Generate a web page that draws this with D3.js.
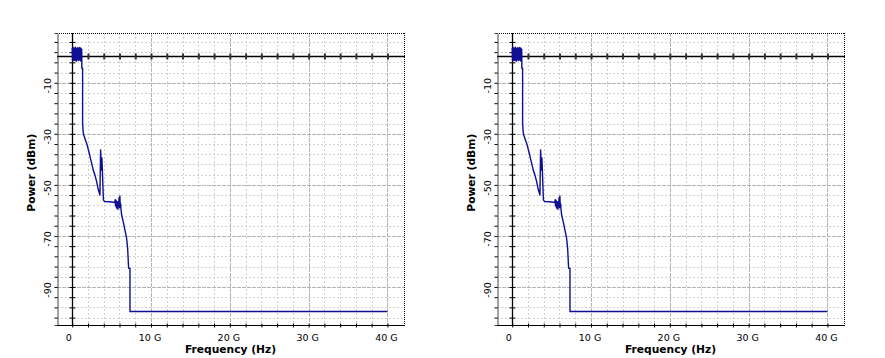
<!DOCTYPE html>
<html><head><meta charset="utf-8">
<script src="https://cdn.jsdelivr.net/npm/d3@7/dist/d3.min.js"></script>
<style>body{margin:0;background:#fff}svg{display:block}</style>
</head><body><svg id="c" width="885" height="358"></svg>
<script>
// ---- data (frequency in GHz, power in dBm) ----
const freqGHz = [
  0.00,0.04,0.08,0.12,0.16,0.20,0.24,0.28,0.32,0.36,0.40,0.44,0.48,0.52,0.56,0.60,
  0.64,0.68,0.72,0.76,0.80,0.84,0.88,0.92,0.96,1.00,1.04,1.08,1.12,1.16,1.20,
  1.22,1.22,1.32,1.32,1.40,1.61,1.90,2.16,2.46,2.66,2.88,3.10,3.22,3.39,3.52,
  3.60,3.71,3.77,3.96,4.09,4.78,5.42,
  5.45,5.50,5.55,5.60,5.65,5.70,5.75,5.80,5.85,5.90,5.95,6.00,6.05,6.10,6.15,
  6.18,6.27,6.47,6.69,6.90,7.03,7.16,7.33,7.33,40.0
];
const powerDbm = [
  3.6,-1.0,3.2,-0.6,3.8,-1.4,3.0,-0.8,3.5,-1.2,3.9,-0.5,2.8,-1.6,3.4,-0.9,
  3.7,-1.1,3.1,-0.7,3.6,-1.3,3.3,-0.6,3.8,-1.0,2.9,-1.5,3.5,-0.8,3.2,
  -0.5,-4.3,-4.3,-25.8,-29.8,-31.8,-34.4,-37.6,-41.5,-44.1,-46.1,-48.7,-50.7,-52.7,-54.0,
  -36.3,-44.2,-39.5,-55.9,-56.5,-56.6,-56.9,
  -55.8,-58.2,-56.0,-58.8,-56.5,-59.3,-57.0,-59.5,-56.5,-58.5,-55.0,-59.0,-54.3,-58.5,-57.5,
  -59.2,-61.8,-64.4,-67.7,-70.9,-74.8,-82.7,-82.7,-99.6,-99.6
];
const xTickValues = [0,10,20,30,40];
const xTickLabels = ["0","10 G","20 G","30 G","40 G"];
const yTickValues = [-10,-30,-50,-70,-90];
const yTickLabels = ["-10","-30","-50","-70","-90"];
const xMinorTicks = [0,2,4,6,8,10,12,14,16,18,20,22,24,26,28,30,32,34,36,38,40,42];
const yMinorTicks = [-102,-98,-94,-90,-86,-82,-78,-74,-70,-66,-62,-58,-54,-50,-46,-42,-38,-34,-30,-26,-22,-18,-14,-10,-6,-2,2,6];
const xTitle = "Frequency (Hz)";
const yTitle = "Power (dBm)";
const panelOffsets = [0, 440];

// ---- layout ----
const L = 57, R = 404, T = 33, B = 325;
const xDomain = [-1.93, 42.1], yDomain = [-104.9, 9.5];
const svg = d3.select("#c");
svg.append("rect").attr("width",885).attr("height",358).attr("fill","#fff");
const pts = d3.zip(freqGHz, powerDbm);
const tickFont = "'DejaVu Sans', Verdana, sans-serif";

panelOffsets.forEach(off => {
  const g = svg.append("g").attr("transform", `translate(${off},0)`);
  const x = d3.scaleLinear().domain(xDomain).range([L, R]);
  const y = d3.scaleLinear().domain(yDomain).range([B, T]);

  // minor grid
  const xMin = xMinorTicks.filter(v => v !== 0 && !xTickValues.includes(v) && v < xDomain[1]-0.3);
  const yMin = yMinorTicks.filter(v => !yTickValues.includes(v));
  g.append("g").selectAll("line").data(xMin).join("line")
    .attr("x1", d => Math.round(x(d))+0.5).attr("x2", d => Math.round(x(d))+0.5)
    .attr("y1", T).attr("y2", B)
    .attr("stroke", "#d2d2d2").attr("stroke-dasharray", "2,2");
  g.append("g").selectAll("line").data(yMin).join("line")
    .attr("y1", d => Math.round(y(d))+0.5).attr("y2", d => Math.round(y(d))+0.5)
    .attr("x1", L).attr("x2", R)
    .attr("stroke", "#d2d2d2").attr("stroke-dasharray", "2,2");
  // major grid
  g.append("g").selectAll("line").data(xTickValues.filter(v => v !== 0)).join("line")
    .attr("x1", d => Math.round(x(d))+0.5).attr("x2", d => Math.round(x(d))+0.5)
    .attr("y1", T).attr("y2", B)
    .attr("stroke", "#b4b4b4").attr("stroke-dasharray", "4,1");
  g.append("g").selectAll("line").data(yTickValues).join("line")
    .attr("y1", d => Math.round(y(d))+0.5).attr("y2", d => Math.round(y(d))+0.5)
    .attr("x1", L).attr("x2", R)
    .attr("stroke", "#b4b4b4").attr("stroke-dasharray", "4,1");

  // frame: dotted top/right, solid left/bottom
  g.append("line").attr("x1", L).attr("x2", R+0.5).attr("y1", T+0.5).attr("y2", T+0.5)
    .attr("stroke", "#000").attr("stroke-dasharray", "1,1");
  g.append("line").attr("x1", R+0.5).attr("x2", R+0.5).attr("y1", T).attr("y2", B)
    .attr("stroke", "#000").attr("stroke-dasharray", "1,1");

  // left frame axis with ticks
  g.append("g").attr("transform", `translate(${L+0.5},0)`)
    .call(d3.axisLeft(y).tickValues(yMinorTicks).tickSize(3).tickFormat(""))
    .call(a => a.select(".domain").attr("stroke", "#444"))
    .call(a => a.selectAll(".tick line").attr("stroke", "#000"));
  // bottom frame axis with ticks
  g.append("g").attr("transform", `translate(0,${B+0.5})`)
    .call(d3.axisBottom(x).tickValues(xMinorTicks.filter(v => v < 42)).tickSize(2).tickSizeOuter(0).tickFormat(""))
    .call(a => a.select(".domain").attr("stroke", "#000").attr("d", `M${L},0H${R+1}`))
    .call(a => a.selectAll(".tick line").attr("y1", -2).attr("stroke", "#000"));

  // y axis line at 0 GHz with crossing ticks
  g.append("g").attr("transform", `translate(${Math.round(x(0))+0.5},0)`)
    .call(d3.axisLeft(y).tickValues(yMinorTicks).tickSize(3).tickSizeOuter(0).tickFormat(""))
    .call(a => a.select(".domain").attr("stroke", "#000").attr("stroke-width", 1.3).attr("d", `M0,${T}V${B}`))
    .call(a => a.selectAll(".tick line").attr("x2", -3).attr("x1", 3).attr("stroke", "#000"));
  // x axis line at 0 dBm with crossing ticks
  g.append("g").attr("transform", `translate(0,${Math.round(y(0))-0.5})`)
    .call(d3.axisBottom(x).tickValues(xMinorTicks.filter(v => v > 0 && v < 42)).tickSize(3).tickSizeOuter(0).tickFormat(""))
    .call(a => a.select(".domain").attr("stroke", "#000").attr("stroke-width", 1.6).attr("d", `M${L},0H${R+1}`))
    .call(a => a.selectAll(".tick line").attr("y1", -3).attr("y2", 3).attr("stroke", "#333").attr("stroke-width", 2));

  // data trace
  g.append("path").datum(pts)
    .attr("fill", "none").attr("stroke", "#0f0f96").attr("stroke-width", 1.4)
    .attr("stroke-linejoin", "round")
    .attr("d", d3.line().x(d => x(d[0])).y(d => y(d[1])));

  // tick labels
  g.append("g").attr("transform", `translate(0,${B})`)
    .call(d3.axisBottom(x).tickValues(xTickValues).tickSize(0)
      .tickFormat((d, i) => xTickLabels[i]))
    .call(a => a.select(".domain").remove())
    .call(a => a.selectAll("text")
      .attr("font-family", tickFont).attr("font-size", "9.5px").attr("fill", "#000")
      .attr("y", 9).attr("dx", d => d === 0 ? -4 : -1.5));
  g.append("g").attr("transform", `translate(${L},0)`)
    .call(d3.axisLeft(y).tickValues(yTickValues).tickSize(0)
      .tickFormat((d, i) => yTickLabels[i]))
    .call(a => a.select(".domain").remove())
    .call(a => a.selectAll("text")
      .attr("font-family", tickFont).attr("font-size", "9.5px").attr("fill", "#000")
      .attr("text-anchor", "middle").attr("x", 0).attr("dy", 0)
      .attr("transform", "translate(-6.5,2.5) rotate(-90)"));

  // titles
  g.append("text").attr("x", (L+R)/2).attr("y", 353)
    .attr("text-anchor", "middle").attr("font-family", tickFont)
    .attr("font-weight", "bold").attr("font-size", "10.7px").attr("fill", "#000")
    .text(xTitle);
  g.append("text").attr("transform", "translate(35,172.7) rotate(-90)")
    .attr("text-anchor", "middle").attr("font-family", tickFont)
    .attr("font-weight", "bold").attr("font-size", "10.7px").attr("fill", "#000")
    .text(yTitle);
});
</script></body></html>
